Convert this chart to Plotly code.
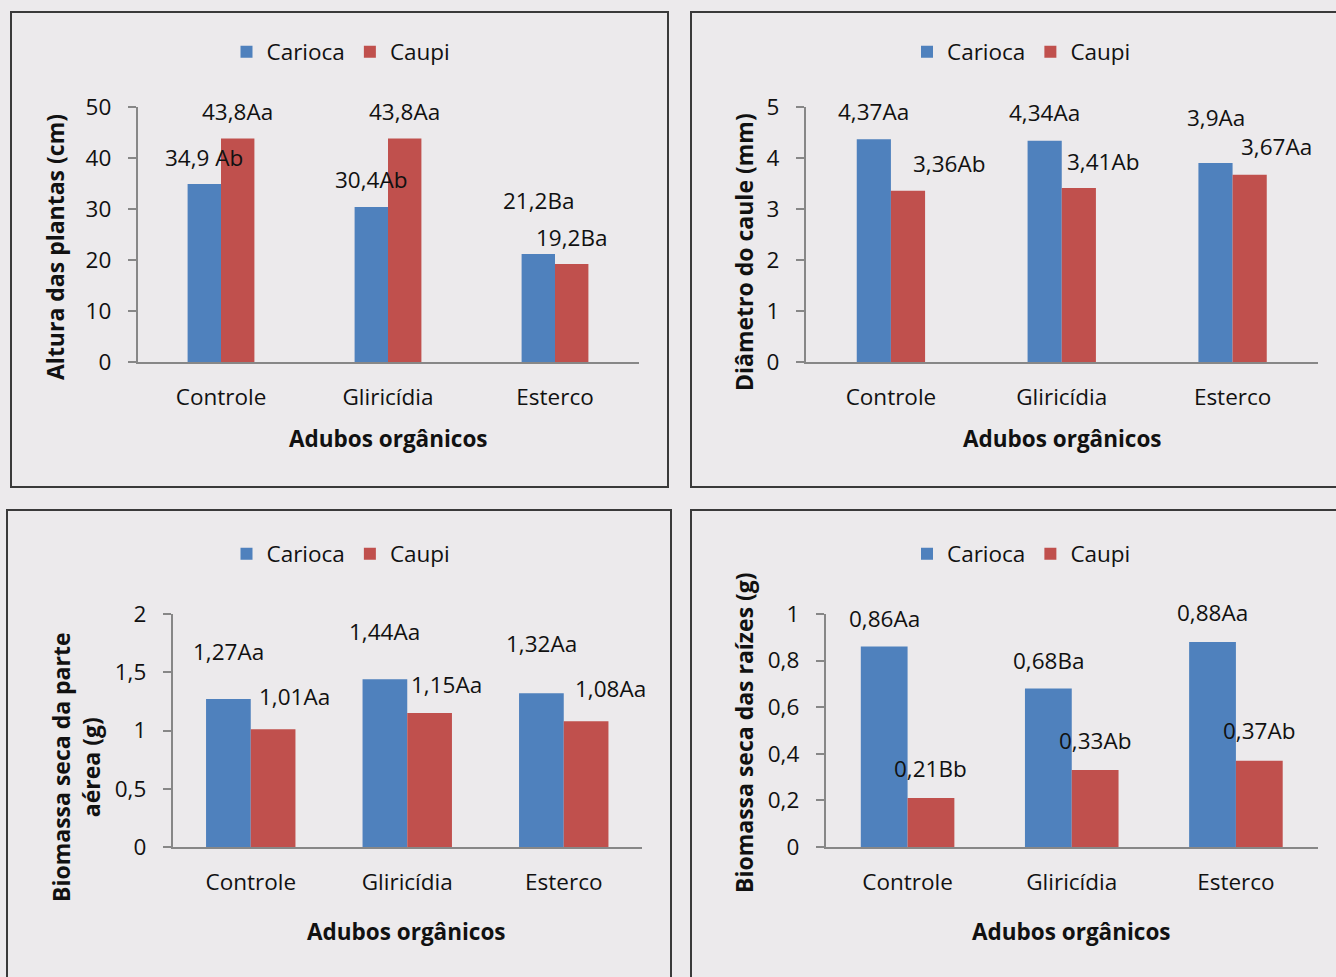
import plotly.graph_objects as go

# ---- data -----------------------------------------------------------------
categories = ["Controle", "Gliricídia", "Esterco"]
series_names = ["Carioca", "Caupi"]

altura_carioca = [34.9, 30.4, 21.2]
altura_caupi = [43.8, 43.8, 19.2]
altura_letras_carioca = [" Ab", "Ab", "Ba"]
altura_letras_caupi = ["Aa", "Aa", "Ba"]

diametro_carioca = [4.37, 4.34, 3.9]
diametro_caupi = [3.36, 3.41, 3.67]
diametro_letras_carioca = ["Aa", "Aa", "Aa"]
diametro_letras_caupi = ["Ab", "Ab", "Aa"]

parte_aerea_carioca = [1.27, 1.44, 1.32]
parte_aerea_caupi = [1.01, 1.15, 1.08]
parte_aerea_letras_carioca = ["Aa", "Aa", "Aa"]
parte_aerea_letras_caupi = ["Aa", "Aa", "Aa"]

raizes_carioca = [0.86, 0.68, 0.88]
raizes_caupi = [0.21, 0.33, 0.37]
raizes_letras_carioca = ["Aa", "Ba", "Aa"]
raizes_letras_caupi = ["Bb", "Ab", "Ab"]

altura_ticks = [0, 10, 20, 30, 40, 50]
diametro_ticks = [0, 1, 2, 3, 4, 5]
parte_aerea_ticks = [0, 0.5, 1, 1.5, 2]
raizes_ticks = [0, 0.2, 0.4, 0.6, 0.8, 1]

x_title = "Adubos orgânicos"

# ---- style ----------------------------------------------------------------
W, H = 1336, 977
BG = "#ECEAEC"
BLUE = "#4F81BD"
RED = "#C0504D"
AXIS = "#878787"
FONT = "Open Sans, Noto Sans, sans-serif"
FS = 22.5
XTITLE_FS = 22.5
YTITLE_FS = 23


def px_x(v):
    return v / W


def px_y(v):
    return 1 - v / H


# panel layout in pixels: plot area, box, legend centre, titles, bar width,
# and per-label offsets (dx, dy) in pixels relative to each bar top
panels = [
    dict(
        carioca=altura_carioca, caupi=altura_caupi,
        lc=altura_letras_carioca, lr=altura_letras_caupi,
        ticks=altura_ticks, ytitle="Altura das plantas (cm)",
        plot=(137.5, 638.5, 107, 362), box=(11, 668, 12, 487),
        legend=(341, 52), ytitle_pos=(55, 247), xtitle_pos=(388, 438),
        width=0.2,
        off_c=[(0, 27), (0, 27), (0, 53)],
        off_r=[(0, 27.5), (0, 27.5), (0, 26.5)],
    ),
    dict(
        carioca=diametro_carioca, caupi=diametro_caupi,
        lc=diametro_letras_carioca, lr=diametro_letras_caupi,
        ticks=diametro_ticks, ytitle="Diâmetro do caule (mm)",
        plot=(805.5, 1318, 107, 362), box=(691, 1345, 12, 487),
        legend=(1021.5, 52), ytitle_pos=(744, 252), xtitle_pos=(1062, 438),
        width=0.2,
        off_c=[(0, 27.5), (0, 28), (0, 46)],
        off_r=[(41, 27.5), (24, 27), (27, 28)],
    ),
    dict(
        carioca=parte_aerea_carioca, caupi=parte_aerea_caupi,
        lc=parte_aerea_letras_carioca, lr=parte_aerea_letras_caupi,
        ticks=parte_aerea_ticks, ytitle="Biomassa seca da parte<br>aérea (g)",
        plot=(172.5, 642, 614, 847), box=(7, 671, 510, 990),
        legend=(341, 554), ytitle_pos=(76, 767), xtitle_pos=(407, 931),
        width=0.2856,
        off_c=[(0, 48), (0, 48), (0, 50)],
        off_r=[(21, 32.5), (16.5, 29), (24, 33)],
    ),
    dict(
        carioca=raizes_carioca, caupi=raizes_caupi,
        lc=raizes_letras_carioca, lr=raizes_letras_caupi,
        ticks=raizes_ticks, ytitle="Biomassa seca das raízes (g)",
        plot=(825.5, 1318, 614, 847), box=(691, 1345, 510, 990),
        legend=(1021.5, 554), ytitle_pos=(744, 732), xtitle_pos=(1071.5, 931),
        width=0.285,
        off_c=[(0, 28.5), (0, 28.5), (0, 29)],
        off_r=[(0, 30), (0, 29.5), (0, 30)],
    ),
]


def fmt(v):
    return str(v).replace(".", ",")


fig = go.Figure()
annotations = []
shapes = []
layout_extra = {}

for k, p in enumerate(panels):
    n = k + 1
    xa = "x" if n == 1 else f"x{n}"
    ya = "y" if n == 1 else f"y{n}"
    leg = "legend" if n == 1 else f"legend{n}"
    w = p["width"]
    x0, x1, y0, y1 = p["plot"]
    top = p["ticks"][-1]

    fig.add_trace(go.Bar(
        x=categories, y=p["carioca"], name=series_names[0],
        marker=dict(color=BLUE, line=dict(width=0)),
        width=w, offset=-w, xaxis=xa, yaxis=ya, legend=leg,
        hoverinfo="skip",
    ))
    fig.add_trace(go.Bar(
        x=categories, y=p["caupi"], name=series_names[1],
        marker=dict(color=RED, line=dict(width=0)),
        width=w, offset=0, xaxis=xa, yaxis=ya, legend=leg,
        hoverinfo="skip",
    ))

    axis_key_x = "xaxis" if n == 1 else f"xaxis{n}"
    axis_key_y = "yaxis" if n == 1 else f"yaxis{n}"
    layout_extra[axis_key_x] = dict(
        domain=[px_x(x0), px_x(x1)], anchor=ya, automargin=False,
        type="category", categoryarray=categories, range=[-0.5, 2.5],
        showline=True, linecolor=AXIS, linewidth=1.5,
        ticks="", showgrid=False, zeroline=False,
        tickfont=dict(family=FONT, size=FS, color="#111111"),
        ticklabelstandoff=14, fixedrange=True,
    )
    layout_extra[axis_key_y] = dict(
        domain=[px_y(y1), px_y(y0)], anchor=xa, automargin=False,
        range=[0, top], tickvals=p["ticks"],
        showline=True, linecolor=AXIS, linewidth=1.5,
        ticks="outside", ticklen=8, tickwidth=1.5, tickcolor=AXIS,
        showgrid=False, zeroline=False,
        tickfont=dict(family=FONT, size=FS, color="#111111"),
        ticklabelstandoff=12, fixedrange=True,
    )
    layout_extra[leg] = dict(
        orientation="h", x=px_x(p["legend"][0]), y=px_y(p["legend"][1]),
        xanchor="center", yanchor="middle", bgcolor="rgba(0,0,0,0)",
        font=dict(family=FONT, size=FS, color="#111111"),
        itemclick=False, itemdoubleclick=False,
    )

    # value labels above the bars
    for i in range(3):
        for vals, letters, offs, sign in (
            (p["carioca"], p["lc"], p["off_c"], -1),
            (p["caupi"], p["lr"], p["off_r"], 1),
        ):
            dx, dy = offs[i]
            annotations.append(dict(
                x=i + sign * w / 2, y=vals[i], xref=xa, yref=ya,
                text=fmt(vals[i]) + letters[i], showarrow=False,
                xanchor="center", yanchor="middle",
                xshift=dx, yshift=dy,
                font=dict(family=FONT, size=FS, color="#111111"),
            ))

    # axis titles
    annotations.append(dict(
        x=px_x(p["ytitle_pos"][0]), y=px_y(p["ytitle_pos"][1]),
        xref="paper", yref="paper", text="<b>" + p["ytitle"] + "</b>",
        textangle=-90, showarrow=False, xanchor="center", yanchor="middle",
        font=dict(family=FONT, size=YTITLE_FS, color="#111111"),
    ))
    annotations.append(dict(
        x=px_x(p["xtitle_pos"][0]), y=px_y(p["xtitle_pos"][1]),
        xref="paper", yref="paper", text="<b>" + x_title + "</b>",
        showarrow=False, xanchor="center", yanchor="middle",
        font=dict(family=FONT, size=XTITLE_FS, color="#111111"),
    ))

    # panel frame
    bx0, bx1, by0, by1 = p["box"]
    shapes.append(dict(
        type="rect", xref="paper", yref="paper",
        x0=px_x(bx0), x1=px_x(bx1), y0=px_y(by1), y1=px_y(by0),
        line=dict(color="#3A3A3A", width=2), fillcolor="rgba(0,0,0,0)",
        layer="below",
    ))

fig.update_layout(
    width=W, height=H, autosize=False,
    margin=dict(l=0, r=0, t=0, b=0, pad=0, autoexpand=False),
    paper_bgcolor=BG, plot_bgcolor=BG,
    barmode="overlay", separators=", ",
    annotations=annotations, shapes=shapes,
    font=dict(family=FONT, size=FS, color="#111111"),
    **layout_extra,
)

fig.write_html("out.html", config=dict(displayModeBar=False))
